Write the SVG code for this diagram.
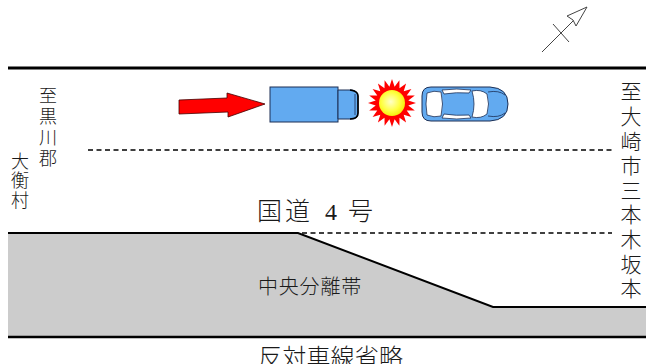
<svg xmlns="http://www.w3.org/2000/svg" width="646" height="364" viewBox="0 0 646 364">
  <defs>
    <radialGradient id="flash" cx="0.45" cy="0.45" r="0.6">
      <stop offset="0" stop-color="#ffffc8"/>
      <stop offset="0.6" stop-color="#ffff40"/>
      <stop offset="1" stop-color="#f5e800"/>
    </radialGradient>
  </defs>
  <style>
    .jp { font-family: "Noto Sans CJK JP", "Noto Sans CJK SC", sans-serif; font-weight: 300; fill: #1a1a1a; }
    .vert { writing-mode: vertical-rl; text-orientation: upright; }
    .road { stroke: #000; fill: none; }
    .dash { stroke: #000; stroke-width: 1.6; stroke-dasharray: 5 3.5; fill: none; }
    .veh { fill: #62aaf0; stroke: #1c2f55; stroke-width: 1; }
    .glass { fill: #fff; stroke: #1c2f55; stroke-width: 0.8; }
  </style>

  <!-- background -->
  <rect width="646" height="364" fill="#fff"/>

  <!-- median strip -->
  <g id="median">
    <polygon points="8,233 298,233 493,307 646,307 646,337 8,337" fill="#cccccc"/>
    <polyline class="road" stroke-width="2" points="8,233 298,233 493,307 646,307"/>
    <line class="road" stroke-width="2.4" x1="8" y1="337" x2="646" y2="337"/>
  </g>

  <!-- road edges and lane markings -->
  <g id="road">
    <line class="road" stroke-width="2.8" x1="8" y1="68" x2="646" y2="68"/>
    <line class="dash" x1="88" y1="150" x2="612" y2="150"/>
    <line class="dash" x1="302" y1="233" x2="612" y2="233"/>
  </g>

  <!-- north arrow -->
  <g id="north" stroke="#444" stroke-width="1" fill="none">
    <line x1="542" y1="52" x2="580" y2="14"/>
    <line x1="553" y1="24" x2="569" y2="42"/>
    <polygon points="587,7 567,16 573,20 576,26" fill="#fff"/>
  </g>

  <!-- direction of travel -->
  <g id="arrow">
    <polygon points="179,100 227,98 227,93 265,104 228,117 228,112 179,114" fill="#ff0000" stroke="#400" stroke-width="0.8"/>
  </g>

  <!-- truck -->
  <g id="truck">
    <rect class="veh" x="270" y="87" width="68" height="35"/>
    <path class="veh" d="M338,90 H352 Q358,91 358,96 V113 Q358,119 352,119 H338 Z"/>
    <path d="M350,90 Q358,91 358,96 V113 Q358,119 350,119" fill="none" stroke="#000" stroke-width="1.6"/>
    <line x1="355" y1="94" x2="355" y2="115" stroke="#1c2f55" stroke-width="0.8"/>
  </g>

  <!-- impact -->
  <g id="impact">
    <polygon fill="#ff0000" points="416,103 408.3,105.6 414.8,110.4 406.7,110.5 411.4,117.1 403.7,114.7 406.1,122.4 399.5,117.7 399.4,125.8 394.6,119.3 392,127 389.4,119.3 384.6,125.8 384.5,117.7 377.9,122.4 380.3,114.7 372.6,117.1 377.3,110.5 369.2,110.4 375.7,105.6 368,103 375.7,100.4 369.2,95.6 377.3,95.5 372.6,88.9 380.3,91.3 377.9,83.6 384.5,88.3 384.6,80.2 389.4,86.7 392,79 394.6,86.7 399.4,80.2 399.5,88.3 406.1,83.6 403.7,91.3 411.4,88.9 406.7,95.5 414.8,95.6 408.3,100.4"/>
    <circle cx="392" cy="103" r="13" fill="url(#flash)"/>
  </g>

  <!-- passenger car -->
  <g id="car">
    <path class="veh" d="M431,87 H490 Q508,88 508,104 Q508,120 490,121 H431 Q422,121 422,112 V96 Q422,87 431,87 Z"/>
    <path class="glass" d="M427,93 Q434,90 441,92 Q444,104 441,116 Q434,118 427,115 Q425,104 427,93 Z"/>
    <path class="glass" d="M472,91 Q481,89 487,94 Q490,104 487,114 Q481,119 472,117 Q476,104 472,91 Z"/>
    <path class="glass" d="M442,90 Q457,88 471,90 L469,93 Q456,92 444,94 Z"/>
    <path class="glass" d="M442,118 Q457,120 471,118 L469,115 Q456,116 444,114 Z"/>
    <path d="M488,92 Q499,90 505,95 M488,116 Q499,118 505,113" fill="none" stroke="#1c2f55" stroke-width="0.8"/>
  </g>

  <!-- place names, set vertically -->
  <g id="label-west">
    <text class="jp vert" font-size="18" letter-spacing="3" x="48" y="86">至黒川郡</text>
    <text class="jp vert" font-size="18" letter-spacing="1.5" x="20" y="152">大衡村</text>
  </g>
  <g id="label-east">
    <text class="jp vert" font-size="21" letter-spacing="3.6" x="631" y="81">至大崎市三本木坂本</text>
  </g>

  <g id="label-road">
    <text class="jp" font-size="25" x="257" y="220" letter-spacing="3">国道</text>
    <text font-family="Liberation Serif, serif" font-size="24" x="325" y="220" fill="#1a1a1a">4</text>
    <text class="jp" font-size="25" x="348" y="220">号</text>
  </g>
  <g id="label-median">
    <text class="jp" font-size="20" x="258" y="294" letter-spacing="0.8">中央分離帯</text>
  </g>
  <g id="label-opposite">
    <text class="jp" font-size="24" x="258" y="366" letter-spacing="0.2">反対車線省略</text>
  </g>
</svg>
